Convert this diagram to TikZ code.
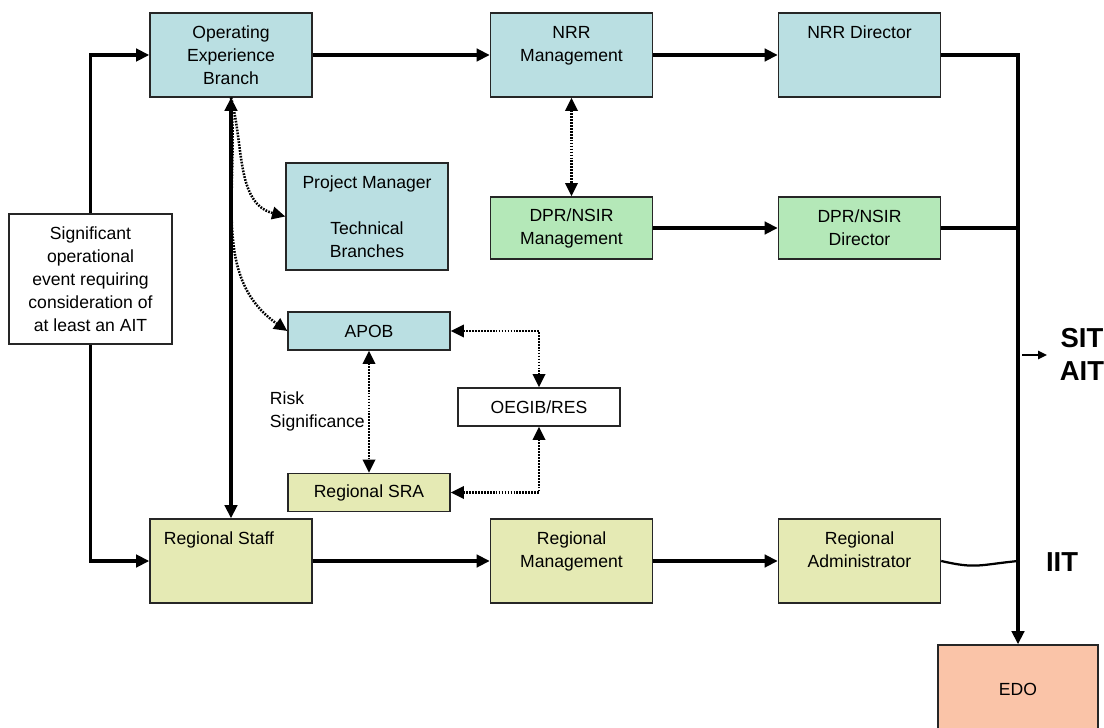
\documentclass[tikz,border=0pt]{standalone}
\usepackage{fontspec}
\setmainfont{Liberation Sans}
\usetikzlibrary{arrows.meta, positioning}
\definecolor{boxBlue}{RGB}{186,223,226}
\definecolor{boxGreen}{RGB}{180,232,184}
\definecolor{boxYellow}{RGB}{229,234,180}
\definecolor{boxSalmon}{RGB}{250,196,168}
\tikzset{
    flowBox/.style={
        rectangle,
        draw=black!85,
        line width=1pt,
        align=center,
        inner sep=2pt,
        minimum width=4.05cm,
        minimum height=2.1cm,
        font=\fontsize{12.5}{16.3}\selectfont
    },
    flatBox/.style={flowBox, minimum height=0.95cm},
    mainLink/.style={line width=2.4pt},
    dotLink/.style={line width=1.8pt, dash pattern=on 1.2pt off 0.9pt},
    tagText/.style={font=\fontsize{19.5}{23}\selectfont\bfseries}
}
\begin{document}
\begin{tikzpicture}[x=0.025cm, y=-0.025cm, >={Triangle[length=3.3mm, width=3.1mm]}]
            \useasboundingbox (0,0) rectangle (1104,728);

            % Top row
            \node[flowBox, fill=boxBlue] (oeb) at (231,55) {Operating\\Experience\\Branch};
            \node[flowBox, fill=boxBlue] (nrrMgmt) at (571.5,55) {NRR\\Management\\~};
            \node[flowBox, fill=boxBlue] (nrrDir) at (859.5,55) {NRR Director\\~\\~};

            % Middle
            \node[flowBox, fill=boxBlue, minimum height=2.68cm] (projMgr) at (367,216.5) {Project Manager\\~\\Technical\\Branches};
            \node[flowBox, fill=boxGreen, minimum height=1.55cm] (dprMgmt) at (571.5,228) {DPR/NSIR\\Management};
            \node[flowBox, fill=boxGreen, minimum height=1.55cm] (dprDir) at (859.5,228) {DPR/NSIR\\Director};
            \node[flowBox, fill=white, minimum width=4.08cm, minimum height=3.25cm] (sigEvent) at (90.5,279) {Significant\\operational\\event requiring\\consideration of\\at least an AIT};
            \node[flatBox, fill=boxBlue] (apob) at (369,331) {APOB};
            \node[flatBox, fill=white] (oegib) at (539,407) {OEGIB/RES};
            \node[flatBox, fill=boxYellow] (regSra) at (369,492.5) {Regional SRA};
            \node[anchor=west, align=left, font=\fontsize{12.5}{16.3}\selectfont] (riskLabel) at (265,411) {Risk\\Significance};

            % Bottom row
            \node[flowBox, fill=boxYellow] (regStaff) at (231,561) {Regional Staff\hspace*{0.6cm}\\~\\~};
            \node[flowBox, fill=boxYellow] (regMgmt) at (571.5,561) {Regional\\Management\\~};
            \node[flowBox, fill=boxYellow] (regAdm) at (859.5,561) {Regional\\Administrator\\~};
            \node[flowBox, fill=boxSalmon, minimum width=4cm, minimum height=2.2cm] (edo) at (1018,689) {EDO};

            % Labels
            \node[tagText] (sitLabel) at (1082,338) {SIT};
            \node[tagText] (aitLabel) at (1082,371) {AIT};
            \node[tagText] (iitLabel) at (1062,562) {IIT};

            % Main flow
            \draw[mainLink, ->] (sigEvent.north) |- (oeb.west);
            \draw[mainLink, ->] (sigEvent.south) |- (regStaff.west);
            \draw[mainLink, ->] (oeb.east) -- (nrrMgmt.west);
            \draw[mainLink, ->] (nrrMgmt.east) -- (nrrDir.west);
            \draw[mainLink, ->] (dprMgmt.east) -- (dprDir.west);
            \draw[mainLink, ->] (regStaff.east) -- (regMgmt.west);
            \draw[mainLink, ->] (regMgmt.east) -- (regAdm.west);
            \draw[mainLink, <->] (regStaff.north) -- (oeb.south);
            \draw[mainLink, ->] (nrrDir.east) -| (edo.north);
            \draw[mainLink] (dprDir.east) -- (dprDir.east -| edo.north);

            % Regional administrator joins the EDO line
            \coordinate (iitJoin) at (regAdm.east -| edo.north);
            \draw[line width=1.6pt] (regAdm.east) .. controls +(35,8) and +(-40,4) .. (iitJoin);

            % SIT / AIT pointer
            \coordinate (sitTail) at (1022,355);
            \coordinate (sitHead) at (1047,355);
            \draw[line width=1.4pt, -{Triangle[length=2.2mm, width=2mm]}] (sitTail) -- (sitHead);

            % Dotted links
            \draw[dotLink, ->] (oeb.south) to[out=-75, in=165] (projMgr.west);
            \draw[dotLink, ->] (oeb.south) to[out=-85, in=145] (apob.west);
            \draw[dotLink, <->] (nrrMgmt.south) -- (dprMgmt.north);
            \draw[dotLink, <->] (apob.south) -- (regSra.north);
            \draw[dotLink, <->] (apob.east) -| (oegib.north);
            \draw[dotLink, <->] (regSra.east) -| (oegib.south);
        \end{tikzpicture}
\end{document}
